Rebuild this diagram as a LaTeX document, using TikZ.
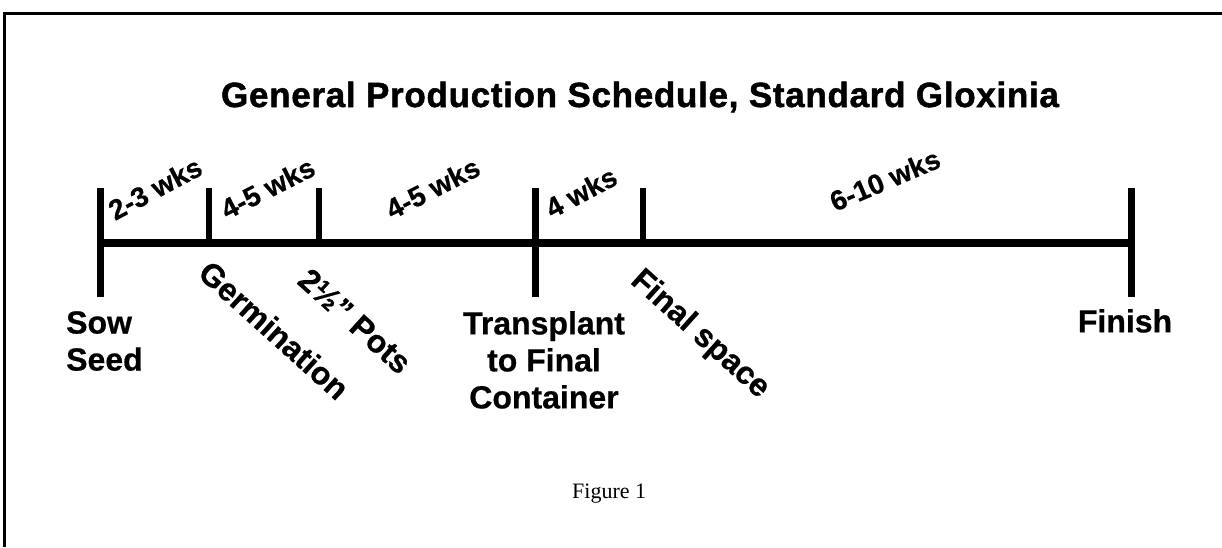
\documentclass[tikz,border=0pt]{standalone}
\usepackage{fontspec}
\setmainfont{Liberation Sans}[BoldFeatures={FakeBold=0.6}]
\newfontfamily\titlefont{Liberation Sans}[LetterSpace=2,BoldFeatures={FakeBold=1.4}]
\newfontfamily\captionserif{Liberation Serif}
\begin{document}
\begin{tikzpicture}[x=1pt,y=-1pt,
  framestyle/.style={line width=3pt},
  axisstyle/.style={line width=7.5pt},
  majortick/.style={line width=7pt},
  minortick/.style={line width=5.5pt},
  titlestyle/.style={inner sep=0pt,font=\titlefont\fontsize{35}{40}\selectfont\bfseries},
  eventlabel/.style={inner sep=0pt,font=\fontsize{32}{37}\selectfont\bfseries},
  weeklabel/.style={inner sep=0pt,anchor=base west,font=\fontsize{28}{32}\selectfont\bfseries},
  slantlabel/.style={inner sep=0pt,anchor=north west,rotate=-42,font=\fontsize{32}{37}\selectfont\bfseries},
  captionstyle/.style={inner sep=0pt,font=\fontsize{22}{26}\selectfont\captionserif}]
\useasboundingbox (0,0) rectangle (1222,547);
% frame (top and left edges)
\coordinate (fTL) at (4,13);
\coordinate (fTR) at (1222,13);
\coordinate (fBL) at (4,547);
\draw[framestyle] (fBL) -- (fTL) -- (fTR);
% title
\node[titlestyle,anchor=base] (title) at (640,107) {General Production Schedule, Standard Gloxinia};
% timeline
\coordinate (sow) at (100,243);
\coordinate (germ) at (209,243);
\coordinate (pots) at (319,243);
\coordinate (trans) at (535,243);
\coordinate (space) at (643,243);
\coordinate (fin) at (1131,243);
\draw[axisstyle] (sow) -- (fin);
\coordinate (sowT) at (100,188);   \coordinate (sowB) at (100,297);
\coordinate (transT) at (535,188); \coordinate (transB) at (535,297);
\coordinate (finT) at (1131,188);  \coordinate (finB) at (1131,297);
\coordinate (germT) at (209,188);
\coordinate (potsT) at (319,188);
\coordinate (spaceT) at (643,188);
\draw[majortick] (sowT) -- (sowB);
\draw[majortick] (transT) -- (transB);
\draw[majortick] (finT) -- (finB);
\draw[minortick] (germT) -- (germ);
\draw[minortick] (potsT) -- (pots);
\draw[minortick] (spaceT) -- (space);
% week labels
\node[weeklabel,rotate=28] (w1) at (115,221) {2-3 wks};
\node[weeklabel,rotate=27] (w2) at (227,220) {4-5 wks};
\node[weeklabel,rotate=27] (w3) at (392,220) {4-5 wks};
\node[weeklabel,rotate=28] (w4) at (552,219) {4 wks};
\node[weeklabel,rotate=23] (w5) at (835,212) {6-10 wks};
% event labels
\node[eventlabel,anchor=north west,align=left] (sowlab) at (66,311) {Sow\\Seed};
\node[eventlabel,anchor=north,align=center] (translab) at (544,311) {Transplant\\to Final\\Container};
\node[eventlabel,anchor=north] (finlab) at (1125,309) {Finish};
\node[slantlabel] (germlab) at (212,258) {Germination};
\node[slantlabel] (potslab) at (311,266) {2½" Pots};
\node[slantlabel] (spacelab) at (645,265) {Final space};
% caption
\node[captionstyle,anchor=base west] (cap) at (572,498) {Figure 1};
\end{tikzpicture}
\end{document}
